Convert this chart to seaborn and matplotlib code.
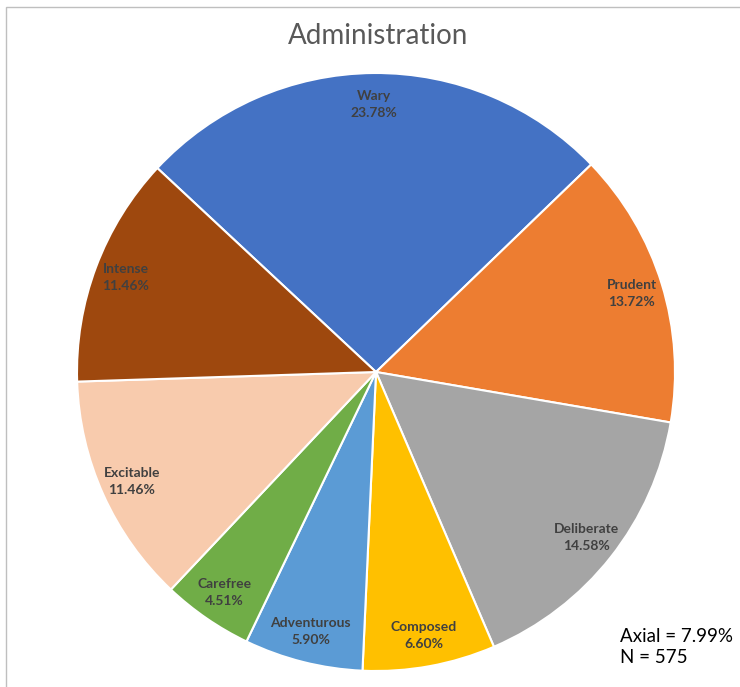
"""Administration pie chart: share of each temperament (Axial shown as a note)."""
import matplotlib
matplotlib.use("Agg")
import matplotlib.pyplot as plt
import seaborn as sns
from matplotlib.patches import Rectangle

categories = ["Wary", "Prudent", "Deliberate", "Composed",
              "Adventurous", "Carefree", "Excitable", "Intense"]
percents = [23.78, 13.72, 14.58, 6.60, 5.90, 4.51, 11.46, 11.46]
colors = ["#4472C4", "#ED7D31", "#A5A5A5", "#FFC000",
          "#5B9BD5", "#70AD47", "#F8CBAD", "#9E480E"]
title = "Administration"
note = "Axial = 7.99%\nN = 575"

sns.set_theme(style="white")
plt.rcParams["font.family"] = ["Lato", "DejaVu Sans"]

W, H = 740, 687
fig = plt.figure(figsize=(W / 100, H / 100), dpi=100)

# thin chart-area frame like the Excel export
fig.patches.append(Rectangle((6 / W, -0.01), 1.0, 1 - 7 / H + 0.01,
                             transform=fig.transFigure, fill=False,
                             edgecolor="#BFBFBF", linewidth=1.0))

cx, cy, r = 376, 372, 299
ax = fig.add_axes([(cx - r) / W, (H - cy - r) / H, 2 * r / W, 2 * r / H])

labels = [f"{c}\n{p:.2f}%" for c, p in zip(categories, percents)]
wedges, texts = ax.pie(
    percents, colors=colors, startangle=137, counterclock=False,
    labels=labels, labeldistance=0.895, radius=1.0,
    wedgeprops=dict(edgecolor="white", linewidth=1.5),
    textprops=dict(color="#404040", fontsize=10, fontweight="bold",
                   ha="center", va="center", linespacing=1.5),
)
for t in texts:
    t.set_horizontalalignment("center")
ax.set_xlim(-1, 1)
ax.set_ylim(-1, 1)
ax.set_aspect("equal")

fig.text(378 / W, 1 - 36 / H, title, ha="center", va="center",
         fontsize=20, color="#595959")
fig.text(620 / W, 1 - 647 / H, note, ha="left", va="center",
         fontsize=13.5, color="black", linespacing=1.3)

fig.savefig("out.png", dpi=100)
